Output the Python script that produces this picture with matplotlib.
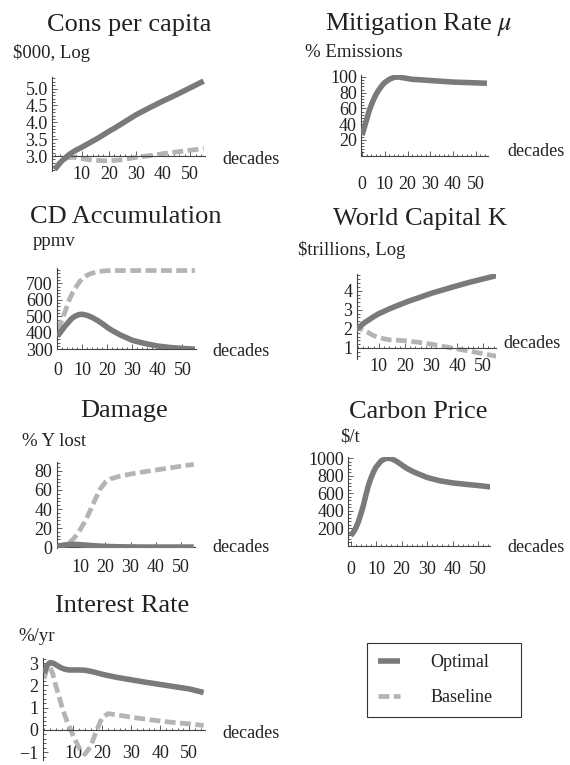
import matplotlib
matplotlib.use("Agg")
import matplotlib.pyplot as plt
from matplotlib.ticker import AutoMinorLocator

plt.rcParams["font.family"] = ["Liberation Serif", "DejaVu Serif"]
plt.rcParams["mathtext.fontset"] = "stix"

W, H = 570, 765

# common time grid (decades)
decades = [0, 1, 2, 3, 4, 5, 6, 7, 8, 9, 10, 12, 14, 16, 18, 20, 22, 25, 30, 35, 40, 45, 50, 55]

cons_opt = [2.6, 2.7, 2.8, 2.88, 2.95, 3.02, 3.08, 3.13, 3.18, 3.22, 3.26, 3.35, 3.44, 3.53,
            3.63, 3.73, 3.82, 3.97, 4.22, 4.43, 4.63, 4.82, 5.02, 5.22]
cons_base = [2.62, 2.72, 2.8, 2.87, 2.92, 2.95, 2.96, 2.96, 2.95, 2.93, 2.92, 2.9, 2.88, 2.87,
             2.86, 2.86, 2.87, 2.89, 2.96, 3.01, 3.07, 3.12, 3.17, 3.22]

mitig_opt = [26, 36, 46, 56, 64, 71, 77, 82, 86, 90, 93, 97, 99.5, 100,
             99, 98, 97, 96.5, 95.5, 94.5, 93.5, 93, 92.5, 92]

cd_opt = [380, 400, 420, 440, 457, 475, 490, 500, 507, 511, 512, 505, 492, 475,
          455, 432, 413, 388, 354, 335, 320, 311, 305, 301]
cd_base = [415, 450, 485, 525, 570, 610, 640, 668, 690, 712, 728, 750, 762, 770,
           774, 776, 777, 777, 777, 777, 777, 777, 777, 777]

cap_opt = [1.85, 1.95, 2.05, 2.16, 2.27, 2.37, 2.46, 2.55, 2.64, 2.72, 2.8, 2.92, 3.05, 3.16,
           3.27, 3.38, 3.48, 3.62, 3.86, 4.06, 4.26, 4.45, 4.62, 4.79]
cap_base = [2.15, 2.12, 2.07, 2.0, 1.93, 1.87, 1.8, 1.72, 1.65, 1.6, 1.55, 1.48, 1.43, 1.41,
            1.4, 1.38, 1.35, 1.3, 1.2, 1.08, 0.95, 0.83, 0.7, 0.57]

dmg_opt = [0.3, 0.8, 1.3, 1.8, 2.2, 2.5, 2.7, 2.8, 2.8, 2.7, 2.5, 2.1, 1.7, 1.3,
           1.0, 0.7, 0.5, 0.3, 0.1, 0, 0, 0, 0, 0]
dmg_base = [0, 0.2, 0.5, 1, 1.7, 3, 5, 7.5, 10.5, 14, 18, 27, 38, 50,
            61, 68, 71.5, 74, 76.8, 79, 81, 83, 85, 87]

price_opt = [115, 150, 200, 270, 360, 460, 580, 690, 775, 845, 900, 970, 1000, 995,
             965, 925, 885, 840, 780, 742, 718, 702, 688, 672]

rate_opt = [2.55, 2.9, 3.02, 3.0, 2.93, 2.85, 2.78, 2.73, 2.7, 2.69, 2.69, 2.69, 2.68, 2.63,
            2.57, 2.5, 2.44, 2.36, 2.25, 2.14, 2.04, 1.94, 1.84, 1.68]
rate_base = [2.3, 2.75, 2.85, 2.5, 2.0, 1.55, 1.1, 0.7, 0.35, 0.05, -0.25, -0.8, -1.1, -0.75,
             -0.05, 0.55, 0.73, 0.68, 0.57, 0.48, 0.4, 0.33, 0.27, 0.2]

OPT_COLOR = "#7a7a7a"
BASE_COLOR = "#b4b4b4"
TEXT_COLOR = "#222222"
AXIS_COLOR = "#444444"

panels = [
    dict(title="Cons per capita", title_xy=(129.5, 31), unit="$000, Log", unit_xy=(13, 58),
         box=(52, 205, 77.4, 171.2), xlim=(-1, 55.5), ylim=(2.55, 5.33), origin=3.0,
         xticks=[10, 20, 30, 40, 50], yticks=[3.0, 3.5, 4.0, 4.5, 5.0], yfmt="{:.1f}",
         xpad=7, dec_xy=(222, 160), opt=cons_opt, base=cons_base),
    dict(title=r"Mitigation Rate $\mu$", title_xy=(418.5, 29.5), unit="% Emissions", unit_xy=(305, 56.7),
         box=(361, 488.1, 75, 155.5), xlim=(-0.5, 55.5), ylim=(0, 102.5), origin=0,
         xticks=[0, 10, 20, 30, 40, 50], yticks=[20, 40, 60, 80, 100], yfmt="{:d}",
         xpad=15, dec_xy=(507, 151), opt=mitig_opt, base=None),
    dict(title="CD Accumulation", title_xy=(126, 223), unit="ppmv", unit_xy=(33, 246.5),
         box=(56.7, 196.2, 268.4, 349.3), xlim=(-0.3, 55.5), ylim=(300, 790), origin=300,
         xticks=[0, 10, 20, 30, 40, 50], yticks=[300, 400, 500, 600, 700], yfmt="{:d}",
         xpad=9, dec_xy=(212, 352), opt=cd_opt, base=cd_base),
    dict(title="World Capital K", title_xy=(420, 225), unit="$trillions, Log", unit_xy=(298, 255.5),
         box=(356.7, 496.3, 274.1, 358.5), xlim=(1.5, 55), ylim=(0.45, 4.87), origin=1,
         xticks=[10, 20, 30, 40, 50], yticks=[1, 2, 3, 4], yfmt="{:d}",
         xpad=7, dec_xy=(503, 344), opt=cap_opt, base=cap_base),
    dict(title="Damage", title_xy=(124.5, 416.7), unit="% Y lost", unit_xy=(22, 446),
         box=(56.7, 195, 462.4, 548), xlim=(0.8, 55.5), ylim=(-1, 89), origin=0,
         xticks=[10, 20, 30, 40, 50], yticks=[0, 20, 40, 60, 80], yfmt="{:d}",
         xpad=8.5, dec_xy=(212, 547), opt=dmg_opt, base=dmg_base),
    dict(title="Carbon Price", title_xy=(418, 418.3), unit="$/t", unit_xy=(340, 441.5),
         box=(348.3, 489.6, 456.5, 545.7), xlim=(-0.9, 54.5), ylim=(0, 1020), origin=0,
         xticks=[0, 10, 20, 30, 40, 50], yticks=[200, 400, 600, 800, 1000], yfmt="{:d}",
         xpad=11, dec_xy=(507, 548), opt=price_opt, base=None),
    dict(title="Interest Rate", title_xy=(122, 611.7), unit="%/yr", unit_xy=(18, 641),
         box=(42.7, 204.5, 657.5, 760), xlim=(-0.5, 55.3), ylim=(-1.35, 3.25), origin=0,
         xticks=[10, 20, 30, 40, 50], yticks=[-1, 0, 1, 2, 3], yfmt="{:d}",
         xpad=11, dec_xy=(222, 733), opt=rate_opt, base=rate_base),
]


def fx(px):
    return px / W


def fy(py):
    return 1 - py / H


fig = plt.figure(figsize=(W / 100, H / 100), dpi=100)

handles = None
for p in panels:
    left, right, top, bottom = p["box"]
    ax = fig.add_axes([fx(left), fy(bottom), (right - left) / W, (bottom - top) / H])
    ax.patch.set_visible(False)

    lo = ax.plot(decades, p["opt"], color=OPT_COLOR, lw=4.0, solid_capstyle="butt",
                 label="Optimal", zorder=3)[0]
    if p["base"] is not None:
        lb = ax.plot(decades, p["base"], color=BASE_COLOR, lw=3.4, dashes=(2.3, 0.95),
                     dash_capstyle="butt", label="Baseline", zorder=2)[0]
        if handles is None:
            handles = [lo, lb]

    ax.set_xlim(*p["xlim"])
    ax.set_ylim(*p["ylim"])

    for side in ("top", "right"):
        ax.spines[side].set_visible(False)
    ax.spines["bottom"].set_position(("data", p["origin"]))
    for side in ("left", "bottom"):
        ax.spines[side].set_color(AXIS_COLOR)
        ax.spines[side].set_linewidth(0.8)

    ax.set_xticks(p["xticks"])
    ax.set_yticks(p["yticks"])
    ax.set_yticklabels([p["yfmt"].format(v).replace("-", "\u2212") for v in p["yticks"]])
    ax.xaxis.set_minor_locator(AutoMinorLocator(5))
    ax.yaxis.set_minor_locator(AutoMinorLocator(5))

    ax.tick_params(which="both", direction="in", color=AXIS_COLOR, width=0.6,
                   labelsize=13, labelcolor=TEXT_COLOR)
    ax.tick_params(which="major", length=3.6)
    ax.tick_params(which="minor", length=1.8)
    ax.tick_params(axis="x", which="major", pad=p["xpad"])
    ax.tick_params(axis="y", which="major", pad=3)

    tx, ty = p["title_xy"]
    fig.text(fx(tx), fy(ty), p["title"], ha="center", va="baseline", fontsize=19,
             color=TEXT_COLOR)
    ux, uy = p["unit_xy"]
    fig.text(fx(ux), fy(uy), p["unit"], ha="left", va="baseline", fontsize=13.5,
             color=TEXT_COLOR)
    dx, dy = p["dec_xy"]
    fig.text(fx(dx), fy(dy), "decades", ha="left", va="center", fontsize=13,
             color=TEXT_COLOR)

leg = fig.legend(handles, ["Optimal", "Baseline"], loc="upper left",
                 bbox_to_anchor=(fx(367), fy(719), 154 / W, 76 / H), mode="expand",
                 frameon=True, fancybox=False, edgecolor="#333333", framealpha=1,
                 borderpad=0.6, labelspacing=1.0, handlelength=1.2, handletextpad=1.7,
                 borderaxespad=0, fontsize=13)
leg.get_frame().set_linewidth(0.8)
for t in leg.get_texts():
    t.set_color(TEXT_COLOR)

fig.savefig("out.png", dpi=100)
